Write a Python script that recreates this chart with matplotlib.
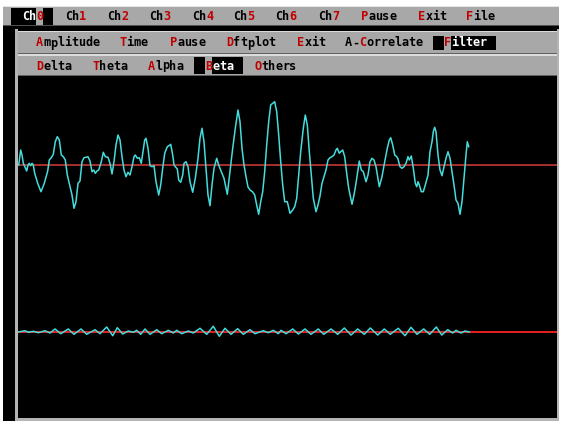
import matplotlib
matplotlib.use('Agg')
import matplotlib.pyplot as plt
from matplotlib.patches import Rectangle

# channel 0, raw trace: sample index and amplitude
ch0_t = [0.7, 2.7, 4, 5.3, 7.3, 8.7, 10, 11.3, 12.7, 14, 15.3, 16.7, 19.7, 23, 26.3, 29.7,
         31.3, 33.3, 35.3, 37.3, 39.3, 41.3, 43.3, 45.3, 47.3, 49.3, 52, 54, 56, 58, 60, 62,
         64, 66, 68, 70, 72, 74, 75.7, 77.3, 79, 80.7, 83.3, 85.3, 87.3, 90, 92, 94, 96, 98,
         100, 102, 104, 106, 108, 110, 112, 114, 116, 117.3, 119.3, 121.3, 123.3, 125.3,
         126.7, 128, 130, 132, 134, 136, 138, 140.7, 142.7, 144.7, 146.7, 149.3, 152, 152.7,
         154.7, 156, 157.3, 159.3, 160.7, 162.7, 164.7, 166, 168, 170, 172, 174.7, 177.3,
         180, 182, 184, 186, 188, 190, 192, 194, 196, 198.7, 200.7, 203.3, 206, 209.3, 212,
         214.7, 217.3, 220, 222, 224, 226, 228, 230, 232, 234.7, 236.7, 238.7, 240.7, 242.7,
         244.7, 246.7, 248.7, 250.7, 252.7, 254.7, 256.7, 258.7, 260.7, 262.7, 264.7, 266.7,
         269.3, 272, 274.7, 276.7, 278.7, 280.7, 282.7, 285.3, 287.3, 289.3, 291.3, 293.3,
         295.3, 298, 300, 302, 304, 306, 308, 310, 312, 314, 316, 318, 319.3, 321.3, 322.7,
         324.7, 326.7, 328.7, 330.7, 332.7, 334, 336, 338, 340, 341.3, 343.3, 345.3, 348, 350,
         352, 354, 356, 358, 361.3, 364, 366.7, 369.3, 371.3, 372.7, 374.7, 376.7, 378.7, 380,
         382, 384, 386, 388, 390, 391.3, 393.3, 395.3, 397.3, 398.7, 400, 401.3, 403.3, 405.3,
         407.3, 410, 412, 414, 415.3, 416.7, 418, 420, 422, 424, 426, 428, 430, 432, 434, 436,
         438, 440, 442, 444, 446, 448, 449.3, 450.7]
ch0_v = [0, 15, 10, 1.7, -2.7, -6, 0, 1.7, -0.7, 1.7, 0, -8.3, -18.3, -26.7, -18.3, -6,
         5, 7.3, 10.7, 23.3, 28.3, 25, 10, 8.3, 5, -10, -21.7, -30, -43.3, -36.7, -18.3, -16,
         3.3, 7.3, 7.7, 8.3, 4, -6.7, -5, -8.3, -6, -5, 3.3, 12.7, 8.3, 7.7, 1.7, -9, 3.3, 20,
         30, 25, 8.3, -5, -11.7, -7.3, -10, -1.7, 8.3, 10, 6.7, 7.3, 1.7, 15,
         25, 26.7, 16.7, -0.7, -1.7, -0.7, -16.7, -30, -20, -3.3, 11.7, 18.3, 20, 20.7,
         10, 0, -1.7, -4, -15, -17.3, -10, 1.7, 3.3, -1.7, -16.7, -27.3, -13.3,
         6.7, 26.7, 36.7, 23.3, -3.3, -30, -40.7, -20, -3.3, 6.7, 0, -6.7, -13.3, -29.3, -6.7,
         16.7, 36.7, 55, 43.3, 16.7, 0, -11.7, -22, -25, -27, -30, -40, -49.3, -36.7,
         -26.7, -6.7, 20, 43.3, 60, 61.7, 63.3, 53.3, 30, 3.3, -20, -36.7,
         -36.7, -48.3, -45, -41.7, -33.3, -10, 13.3, 36.7, 50, 40, 13.3, -10,
         -33.3, -46.7, -40, -31, -18.3, -11.7, -5, 5, 7.3, 8.3, 10, 15, 16.7, 11.7, 13.3,
         15, 8.3, -8.3, -23.3, -33.3, -39.3, -30, -18.3, -5, 4, -5, -6.7, -16.7, -10,
         3.3, 6.7, 5, -1.7, -21.7, -11.7, 3.3, 16.7, 25, 27.3, 20, 10, 8.3, 6,
         -1.7, -3.3, -1.7, 1.7, 8.3, 5, 9, -3.3, -18.3, -21.7, -16.7, -20, -26.7, -26.7,
         -20, -10, 13.3, 23.3, 33.3, 37.7, 33.3, 10, -5, -10.7, -1.7, 6.7, 13.3, 6.7, -6.7, -20,
         -35, -38.3, -49.3, -36.7, -13.3, 10, 23.3, 18.3]

# beta band output
beta_t = [0.3, 7, 10.3, 15.3, 20.3, 27, 32, 37, 42.7, 50.3, 56, 63, 68.7, 77, 82, 88.7,
          94.7, 99.3, 104.7, 110.3, 115.3, 118.7, 122.7, 127, 132, 138.7, 143.7, 150.3,
          155.3, 158.7, 163.7, 170.3, 175.3, 182, 188.7, 195.3, 201.3, 207, 213, 219.7,
          225.3, 232, 237, 245.3, 250.3, 255.3, 260.3, 263, 268, 274.7, 280.3, 287, 293,
          300.3, 305.7, 313, 319.7, 326.3, 333, 339.7, 346.3, 352.3, 359.7, 366.3, 372.3,
          380.3, 387, 393, 399, 405.7, 411.7, 418.3, 423.7, 429.7, 434.7, 438, 443, 447, 451.3]
beta_v = [0, 1.3, -0.3, 0.7, -0.7, 1.3, -1, 3, -1.7, 3, -2.3, 3, -2.3, 2.3, -1.7, 5,
          -3.7, 4.3, -2, 1, -0.3, 1.7, -2.3, 3, -2.3, 2.3, -1.7, 1.7,
          -1, 1.7, -1.7, 1, -1, 3.7, -2.3, 5.7, -4.3, 3.7, -2.3, 3.3,
          -2.3, 2.3, -1.7, 1.3, -0.7, 1.7, -1.7, 1.7, -1.7, 3, -2, 3, -2.3,
          3, -2.3, 3, -2.3, 4, -3, 3, -2.3, 4, -3, 3, -2.3,
          3.7, -3.7, 4.7, -2.3, 3, -2.3, 5, -3, 2.3, -1, 1.7, -1, 1, 0]

top_menu = ['Ch0', 'Ch1', 'Ch2', 'Ch3', 'Ch4', 'Ch5', 'Ch6', 'Ch7', 'Pause', 'Exit', 'File']
top_hot = [2, 2, 2, 2, 2, 2, 2, 2, 0, 0, 0]
top_x = [22, 65, 107, 149, 192, 233, 275, 318, 361, 418, 466]

mid_menu = ['Amplitude', 'Time', 'Pause', 'Dftplot', 'Exit', 'A-Correlate', 'Filter']
mid_hot = [0, 0, 0, 0, 0, 2, 0]
mid_x = [36, 119, 170, 226, 297, 345, 444]

band_menu = ['Delta', 'Theta', 'Alpha', 'Beta', 'Others']
band_hot = [0, 0, 0, 0, 0]
band_x = [36, 92, 148, 205, 254]

GRAY = '#a8a8a8'
RED = '#c00000'
CYAN = '#45dcdc'
CW = 7  # char cell width in px

fig = plt.figure(figsize=(5.62, 4.23), dpi=100)
fig.patch.set_facecolor('white')
bg = fig.add_axes([0, 0, 1, 1])
bg.set_xlim(0, 562)
bg.set_ylim(423, 0)
bg.axis('off')

def box(x0, y0, x1, y1, c):
    bg.add_patch(Rectangle((x0, y0), x1 - x0, y1 - y0, facecolor=c, edgecolor='none', lw=0))

# screen frame
box(3, 26, 559, 421, 'black')
box(3, 6, 559, 26, GRAY)
box(3, 6, 559, 7.5, '#e4e4e4')
box(3, 24.8, 559, 26.3, '#505050')
box(15, 29, 18, 421, '#b4b4b4')
box(15, 418.5, 559, 421, '#b4b4b4')
box(556.5, 29, 559, 421, '#b4b4b4')
box(18, 31, 556.5, 54.5, GRAY)
box(18, 31, 556.5, 32.5, '#dcdcdc')
box(18, 52.8, 556.5, 54.3, '#606060')
box(18, 54.3, 556.5, 76, GRAY)
box(18, 54.3, 556.5, 55.6, '#dcdcdc')
box(18, 74.8, 556.5, 76.3, '#606060')

def menu(labels, hots, xs, y, sel, hb):
    for i, (lab, h, x) in enumerate(zip(labels, hots, xs)):
        on = (i == sel)
        if on:
            box(x - 11, hb[0], x + h * CW, hb[1], 'black')
            box(x + (h + 1) * CW, hb[0], x + len(lab) * CW + 10, hb[1], 'black')
        for k, ch in enumerate(lab):
            c = RED if k == h else ('white' if on else 'black')
            bg.text(x + k * CW + 0.2, y, ch, color=c, fontsize=8.6, family='DejaVu Sans Mono',
                    fontweight='bold', ha='left', va='center')

menu(top_menu, top_hot, top_x, 16.5, 0, (8, 25))
menu(mid_menu, mid_hot, mid_x, 43, 6, (36, 50.5))
menu(band_menu, band_hot, band_x, 66, 3, (57, 74))

# waveform panels
W0, W1 = 18, 556.5
ax1 = fig.add_axes([W0 / 562, 1 - 248 / 423, (W1 - W0) / 562, 171 / 423])
ax2 = fig.add_axes([W0 / 562, 1 - 418.5 / 423, (W1 - W0) / 562, 170.5 / 423])
for ax, t, v, zc, ylim in [(ax1, ch0_t, ch0_v, '#a83030', (-83, 88)),
                           (ax2, beta_t, beta_v, '#e82020', (-86.5, 84))]:
    ax.set_facecolor('black')
    ax.axhline(0, color=zc, lw=1.4, zorder=1)
    ax.plot(t, v, color=CYAN, lw=1.1, zorder=2)
    ax.set_xlim(0, W1 - W0)
    ax.set_ylim(*ylim)
    ax.axis('off')

fig.savefig('out.png', dpi=100, facecolor='white')
